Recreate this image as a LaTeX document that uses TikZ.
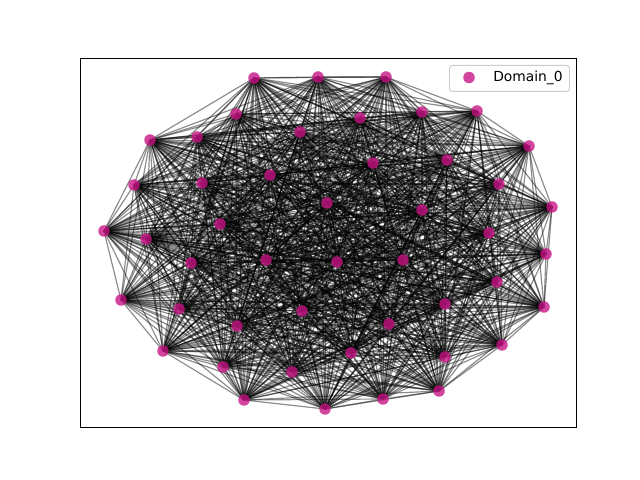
\documentclass[tikz,border=0pt]{standalone}
\usepackage{fontspec}
\setmainfont{DejaVu Sans}
\definecolor{nodecol}{RGB}{199,21,133}
\begin{document}
\begin{tikzpicture}[x=0.0254cm,y=-0.0254cm,
  edgeline/.style={draw=black,draw opacity=0.45,line width=0.85pt},
  vertex/.style={circle,fill=nodecol,fill opacity=0.8,inner sep=0pt,minimum size=11.5*0.0254cm},
  frame/.style={draw=black,line width=0.7pt},
  legendbox/.style={draw=black!20,fill=white,fill opacity=0.8,rounded corners=2pt,line width=0.7pt}]
\useasboundingbox (0,0) rectangle (640,480);
\foreach \x/\y [count=\i] in {254/78,318/77,386/77,236/114,300/132,360/118,422/112,477/111,
150/140,197/137,270/175,373/163,447/160,529/146,134/185,202/183,327/203,422/210,499/184,552/207,
104/231,146/239,220/224,489/233,546/254,191/263,266/260,337/262,403/260,497/282,
121/300,179/309,237/326,302/311,389/324,445/304,544/307,163/351,351/353,445/357,502/345,
223/367,292/372,439/391,244/400,325/409,383/399}
  \coordinate (c\i) at (\x,\y);
\foreach \i in {1,...,46}{
  \pgfmathtruncatemacro\k{\i+1}
  \foreach \j in {\k,...,47}
    \draw[edgeline] (c\i) -- (c\j);
}
\foreach \i in {1,...,47}
  \node[vertex] (n\i) at (c\i) {};
\draw[frame] (80,58) rectangle (576,427);
\node[legendbox,minimum width=120*0.0254cm,minimum height=26*0.0254cm,anchor=north west] (leg) at (449,65) {};
\node[vertex] (legmark) at (469,77.5) {};
\node[anchor=west,inner sep=0pt] (legtext) at (493,77.5) {Domain\_0};
\end{tikzpicture}
\end{document}
